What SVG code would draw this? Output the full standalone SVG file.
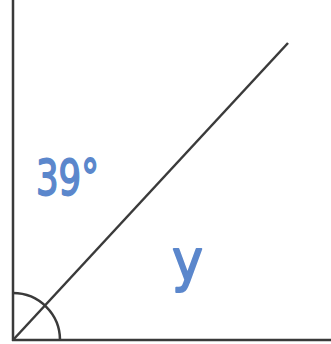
<svg xmlns="http://www.w3.org/2000/svg" width="331" height="344" viewBox="0 0 331 344">
<style>
.ln{stroke:#3a3a3a;stroke-width:2.5;fill:none;stroke-linecap:butt}
.lbl{fill:#5b87cc;stroke:#5b87cc;stroke-width:1.8;stroke-linejoin:round;font-family:"DejaVu Sans","Liberation Sans",sans-serif}
</style>
<rect width="331" height="344" fill="#ffffff"/>
<g id="lines">
<line class="ln" x1="13" y1="0" x2="13" y2="341"/>
<line class="ln" x1="12" y1="340" x2="331" y2="340"/>
<line class="ln" x1="13" y1="340" x2="288" y2="43"/>
<path class="ln" d="M13 293 A47 47 0 0 1 60 340"/>
</g>
<g id="label-39">
<text class="lbl" x="36" y="195" font-size="50" textLength="63" lengthAdjust="spacingAndGlyphs">39°</text>
</g>
<g id="label-y">
<text class="lbl" x="172" y="280" font-size="57" textLength="31" lengthAdjust="spacingAndGlyphs">y</text>
</g>
</svg>
